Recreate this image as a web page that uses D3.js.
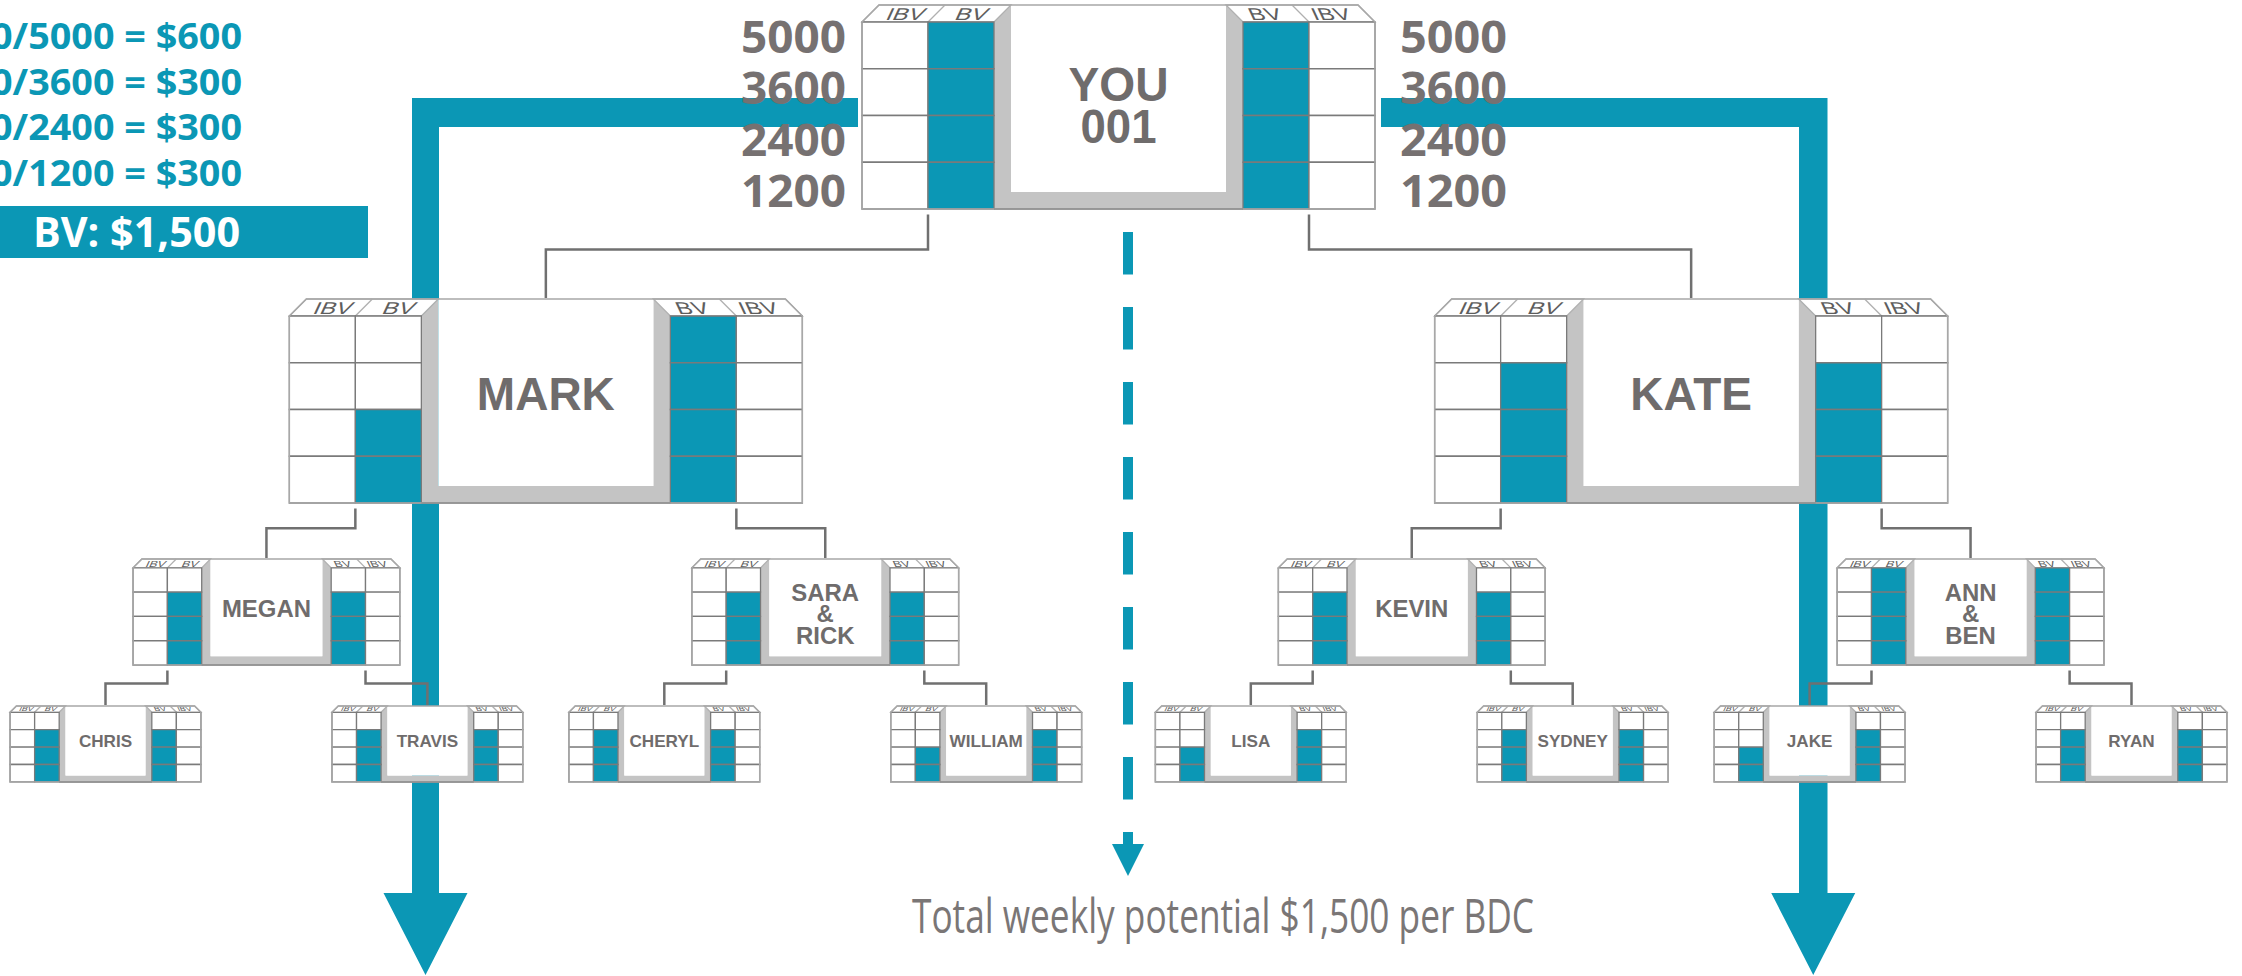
<!DOCTYPE html>
<html><head><meta charset="utf-8">
<script src="https://cdn.jsdelivr.net/npm/d3@7"></script>
<style>html,body{margin:0;padding:0;background:#fff;overflow:hidden}</style>
</head><body>
<svg id="chart" width="2242" height="976"></svg>
<script>
// ---------------- DATA ----------------
const levels = [5000, 3600, 2400, 1200];          // BV rows (top to bottom)
const payouts = [600, 300, 300, 300];             // $ per level
const totalBV = "$1,500";
const names   = ["YOU\n001","MARK","KATE","MEGAN","SARA\n&\nRICK","KEVIN","ANN\n&\nBEN",
                 "CHRIS","TRAVIS","CHERYL","WILLIAM","LISA","SYDNEY","JAKE","RYAN"];
const parents = [null,0,0,1,1,2,2,3,3,4,4,5,5,6,6];
const leftBV  = [5000,2400,3600,3600,3600,3600,5000,3600,3600,3600,2400,2400,3600,2400,3600];
const rightBV = [5000,5000,3600,3600,3600,3600,5000,3600,3600,3600,3600,3600,3600,3600,3600];
const footer  = "Total weekly potential $1,500 per BDC";

// ---------------- STYLE / LAYOUT ----------------
const TEAL = "#0b97b5", GRAYTXT = "#767171", LINE = "#707070";
const W = 513, H = 204, B = 17, BAND = 17;
const C = [0, 66, 132, 149, 364, 381, 447, 513];
const tops = [5, 299, 559, 706];
const ks = [1, 1, 0.52, 0.372];

const svg = d3.select("#chart");

// tree layout
const table = names.map((n, i) => ({id: String(i), parentId: parents[i] === null ? null : String(parents[i]),
  name: n, l: leftBV[i], r: rightBV[i]}));
const root = d3.stratify().id(d => d.id).parentId(d => d.parentId)(table);
d3.tree().nodeSize([322, 1]).separation((a, b) =>
  a.parent === b.parent ? 1 : (a.parent.parent === b.parent.parent ? 0.736 : 0.822))(root);
const leaves = root.leaves();
const xs = d3.scaleLinear().domain([d3.min(leaves, d => d.x), d3.max(leaves, d => d.x)]).range([105.5, 2131.5]);

function geom(d) {
  const k = ks[d.depth], cx = xs(d.x);
  return {k, cx, x0: cx - W * k / 2, y0: tops[d.depth], h: H * k};
}

// ---------------- TEAL ARROWS ----------------
const gArrow = svg.append("g").attr("fill", TEAL);
const arrows = [
  {bx: 412, bw: 27, hx: 858, dir: 1},
  {bx: 1827.5, bw: 28.5, hx: 1381, dir: -1}
];
arrows.forEach(a => {
  const inner = a.bx + a.dir * a.bw, cx = a.bx + a.dir * a.bw / 2;
  const pts = [[a.bx, 98], [a.hx, 98], [a.hx, 127], [inner, 127], [inner, 893],
               [cx + a.dir * 42, 893], [cx, 975], [cx - a.dir * 42, 893], [a.bx, 893]];
  gArrow.append("polygon").attr("points", pts.map(p => p.join(",")).join(" "));
});
// dashed center
svg.append("line").attr("x1", 1128).attr("x2", 1128).attr("y1", 232).attr("y2", 846)
  .attr("stroke", TEAL).attr("stroke-width", 10).attr("stroke-dasharray", "42.5 32.5");
svg.append("polygon").attr("fill", TEAL)
  .attr("points", "1112,844 1144,844 1128,876");

// ---------------- CONNECTORS ----------------
const gConn = svg.append("g").attr("fill", "none").attr("stroke", LINE).attr("stroke-width", 2.5);
root.descendants().filter(d => d.parent).forEach(d => {
  const p = geom(d.parent), c = geom(d);
  const idx = d.parent.children.indexOf(d);
  const sx = p.x0 + (idx === 0 ? C[1] : C[6]) * p.k;
  const pb = p.y0 + p.h;
  const sy = pb + 5.5;
  const hy = pb + 0.45 * (c.y0 - pb);
  gConn.append("path").attr("d", `M${sx},${sy}V${hy}H${c.cx}V${c.y0 - 1}`);
});

// ---------------- NODES ----------------
const rowScale = d3.scaleBand().domain(levels).range([B, H]);
const gNodes = svg.append("g");
root.descendants().forEach(d => {
  const g0 = geom(d);
  const g = gNodes.append("g").attr("transform", `translate(${g0.x0},${g0.y0}) scale(${g0.k})`);
  // gray frame
  g.append("path")
    .attr("d", `M${C[2]},${B}L${C[3]},0V${H - BAND}H${C[4]}V0L${C[5]},${B}V${H}H${C[2]}Z`)
    .attr("fill", "#c4c4c4");
  g.append("rect").attr("x", C[3]).attr("y", 0).attr("width", C[4] - C[3]).attr("height", H - BAND)
    .attr("fill", "#fff");
  // bevels
  const bevStroke = {"stroke": "#b0b0b0", "stroke-width": 1.3, "vector-effect": "non-scaling-stroke"};
  const lb = g.append("path").attr("d", `M${C[0]},${B}L${C[0] + B},0H${C[3]}L${C[2]},${B}Z`).attr("fill", "#fff");
  const rb = g.append("path").attr("d", `M${C[5]},${B}L${C[4]},0H${C[7] - B}L${C[7]},${B}Z`).attr("fill", "#fff");
  [lb, rb].forEach(p => Object.entries(bevStroke).forEach(([k, v]) => p.attr(k, v)));
  [[C[1], C[1] + B], [C[6], C[6] - B]].forEach(([a, b]) => {
    const l = g.append("line").attr("x1", a).attr("y1", B).attr("x2", b).attr("y2", 0);
    Object.entries(bevStroke).forEach(([k, v]) => l.attr(k, v));
  });
  const labs = [
    {t: "IBV", x: (C[0] + C[1]) / 2 + B / 2, s: -25, w: 38},
    {t: "BV", x: (C[1] + C[2]) / 2 + B / 2, s: -25, w: 32},
    {t: "BV", x: (C[5] + C[6]) / 2 - B / 2, s: 25, w: 32},
    {t: "IBV", x: (C[6] + C[7]) / 2 - B / 2, s: 25, w: 38}
  ];
  labs.forEach(L => {
    g.append("text").attr("transform", `translate(${L.x},${B - 2.5}) skewX(${L.s})`)
      .attr("text-anchor", "middle").attr("font-family", "Liberation Sans, Arial, sans-serif")
      .attr("font-size", 17).attr("fill", "#5e5e5e").attr("textLength", L.w)
      .attr("lengthAdjust", "spacingAndGlyphs").text(L.t);
  });
  // cells
  const cols = [
    {x: C[0], w: C[1] - C[0], bv: null},
    {x: C[1], w: C[2] - C[1], bv: d.data.l},
    {x: C[5], w: C[6] - C[5], bv: d.data.r},
    {x: C[6], w: C[7] - C[6], bv: null}
  ];
  cols.forEach(col => {
    levels.forEach(lv => {
      g.append("rect").attr("x", col.x).attr("y", rowScale(lv))
        .attr("width", col.w).attr("height", rowScale.bandwidth())
        .attr("fill", col.bv !== null && col.bv >= lv ? TEAL : "#fff")
        .attr("stroke", "#7a7a7a").attr("stroke-width", 1.3).attr("vector-effect", "non-scaling-stroke");
    });
  });
  // outline
  g.append("path").attr("d", `M${C[0]},${B}L${C[0] + B},0H${C[7] - B}L${C[7]},${B}V${H}H${C[0]}Z`)
    .attr("fill", "none").attr("stroke", "#a8a8a8").attr("stroke-width", 1.5)
    .attr("vector-effect", "non-scaling-stroke");
  g.append("line").attr("x1", C[2]).attr("x2", C[5]).attr("y1", H).attr("y2", H)
    .attr("stroke", "#8e8e8e").attr("stroke-width", 1.5).attr("vector-effect", "non-scaling-stroke");
  // name
  const lines = d.data.name.split("\n");
  const n = lines.length;
  const fs = d.depth === 0 ? 48 : 46;
  const ls = 42;
  const cap = 0.716 * fs;
  const cy = (H - BAND) / 2 + 1 + (n - 1) * 5.5;
  const t = g.append("text").attr("text-anchor", "middle")
    .attr("font-family", "Liberation Sans, Arial, sans-serif")
    .attr("font-weight", 700)
    .attr("font-size", fs).attr("fill", "#6f6c6c");
  lines.forEach((ln, i) => {
    const sp = t.append("tspan").attr("x", (C[3] + C[4]) / 2)
      .attr("y", cy + (i - (n - 1) / 2) * ls + cap / 2).text(ln);
    if (d.depth === 0) sp.attr("textLength", i === 0 ? 100 : 76).attr("lengthAdjust", "spacingAndGlyphs");
  });
});

// ---------------- LEVEL NUMBERS ----------------
const numY = d3.scalePoint().domain(levels).range([53, 207]);
const gNum = svg.append("g").attr("font-family", "Open Sans, sans-serif").attr("font-weight", 700)
  .attr("font-size", 44).attr("fill", GRAYTXT);
levels.forEach(lv => {
  gNum.append("text").attr("x", 846).attr("y", numY(lv)).attr("text-anchor", "end")
    .attr("textLength", 105).attr("lengthAdjust", "spacingAndGlyphs").text(lv);
  gNum.append("text").attr("x", 1400).attr("y", numY(lv)).attr("text-anchor", "start")
    .attr("textLength", 107).attr("lengthAdjust", "spacingAndGlyphs").text(lv);
});

// ---------------- PAYOUT TEXT (top-left) ----------------
const payY = d3.scalePoint().domain(levels).range([49, 186]);
const gPay = svg.append("g").attr("font-family", "Open Sans, sans-serif").attr("font-weight", 700)
  .attr("font-size", 35).attr("fill", TEAL);
levels.forEach((lv, i) => {
  gPay.append("text").attr("x", -9).attr("y", payY(lv))
    .attr("textLength", 251).attr("lengthAdjust", "spacingAndGlyphs")
    .text(`0/${lv} = $${payouts[i]}`);
});
svg.append("rect").attr("x", -2).attr("y", 206).attr("width", 370).attr("height", 52).attr("fill", TEAL);
svg.append("text").attr("x", 33).attr("y", 247).attr("font-family", "Open Sans, sans-serif")
  .attr("font-weight", 700).attr("font-size", 42).attr("fill", "#fff")
  .attr("textLength", 207).attr("lengthAdjust", "spacingAndGlyphs").text(`BV: ${totalBV}`);

// ---------------- FOOTER ----------------
svg.append("text").attr("x", 912).attr("y", 933).attr("font-family", "Open Sans, sans-serif")
  .attr("font-size", 47).attr("fill", "#7a7676")
  .attr("textLength", 622).attr("lengthAdjust", "spacingAndGlyphs").text(footer);
</script>
</body></html>
